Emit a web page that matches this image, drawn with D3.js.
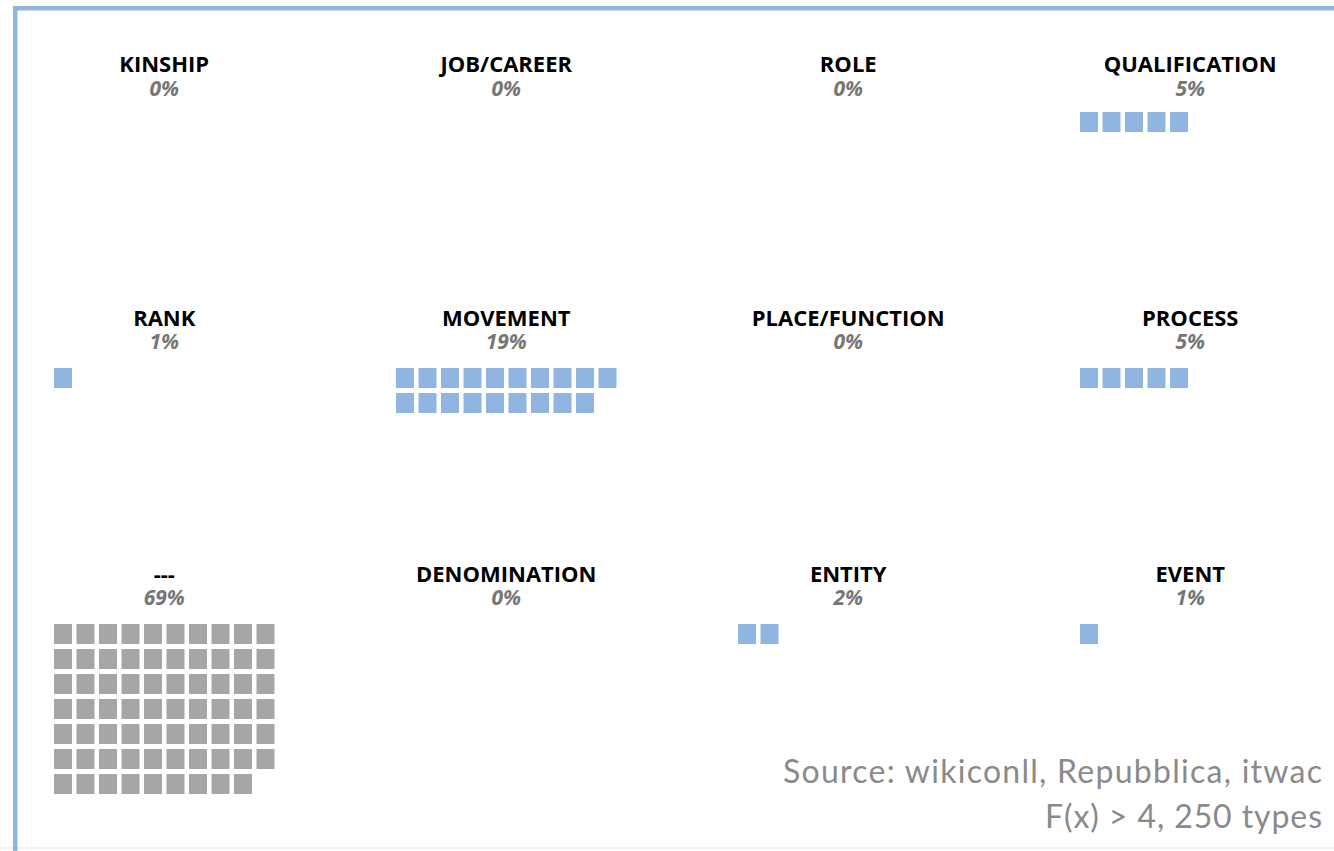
<!DOCTYPE html>
<html>
<head>
<meta charset="utf-8">
<script src="https://cdn.jsdelivr.net/npm/d3@7"></script>
<style>
  body { margin: 0; background: #fff; }
  .title { font-family: "Open Sans", sans-serif; font-weight: 700; font-size: 22px; fill: #000; }
  .pct { font-family: "Open Sans", sans-serif; font-weight: 700; font-style: italic; font-size: 21px; fill: #767676; }
  .source { font-family: Lato, sans-serif; font-size: 32px; fill: #8a8a8a; }
</style>
</head>
<body>
<div id="main"></div>
<script>
// data
const categories = ["KINSHIP", "JOB/CAREER", "ROLE", "QUALIFICATION",
  "RANK", "MOVEMENT", "PLACE/FUNCTION", "PROCESS",
  "---", "DENOMINATION", "ENTITY", "EVENT"];
const percents = [0, 0, 0, 5, 1, 19, 0, 5, 69, 0, 2, 1];
const highlight = ["---"]; // drawn grey, the rest blue
const sourceLines = ["Source: wikiconll, Repubblica, itwac", "F(x) > 4, 250 types"];

function main() {
  const svgWidth = 1334;
  const svgHeight = 851;
  const nCols = 4;
  const perRow = 10;
  const cellW = 18, cellH = 20, pitchX = 22.5, pitchY = 25;
  const colorBlue = "#8fb5e0";
  const colorGrey = "#a6a6a6";
  const sourceWidths = [539, 277];

  const svg = d3.select("#main")
    .append("svg")
    .attr("width", svgWidth)
    .attr("height", svgHeight);

  // frame
  svg.append("rect").attr("x", 0).attr("y", 847).attr("width", svgWidth).attr("height", 2).attr("fill", "#eef4fb");
  svg.append("rect").attr("x", 13).attr("y", 6).attr("width", svgWidth - 13).attr("height", 4.5).attr("fill", colorBlue);
  svg.append("rect").attr("x", 13).attr("y", 6).attr("width", 4.5).attr("height", svgHeight - 6).attr("fill", colorBlue);

  // scales
  const scaleCol = d3.scaleLinear().domain([0, nCols - 1]).range([54, 54 + 342 * 3]);
  const scaleRow = d3.scaleLinear().domain([0, 2]).range([112, 624]);
  const scaleCellX = d3.scaleLinear().domain([0, 1]).range([0, pitchX]);
  const scaleCellY = d3.scaleLinear().domain([0, 1]).range([0, pitchY]);

  const data = categories.map((c, i) => ({
    name: c,
    value: percents[i],
    col: i % nCols,
    row: Math.floor(i / nCols)
  }));

  const panel = svg.append("g")
    .selectAll("g")
    .data(data)
    .enter()
    .append("g")
    .attr("transform", d => "translate(" + scaleCol(d.col) + "," + scaleRow(d.row) + ")");

  const centerX = (perRow - 1) * pitchX / 2 + cellW / 2;

  panel.append("text")
    .attr("class", "title")
    .attr("text-anchor", "middle")
    .attr("x", centerX)
    .attr("y", d => d.row == 0 ? -40 : -42)
    .text(d => d.name);

  panel.append("text")
    .attr("class", "pct")
    .attr("text-anchor", "middle")
    .attr("x", centerX)
    .attr("y", d => d.row == 0 ? -16 : -19)
    .text(d => d.value + "%");

  panel.selectAll("rect")
    .data(d => d3.range(d.value).map(k => ({ k: k, grey: highlight.includes(d.name) })))
    .enter()
    .append("rect")
    .attr("x", d => scaleCellX(d.k % perRow))
    .attr("y", d => scaleCellY(Math.floor(d.k / perRow)))
    .attr("width", cellW)
    .attr("height", cellH)
    .attr("fill", d => d.grey ? colorGrey : colorBlue);

  // source note
  svg.append("g")
    .selectAll("text")
    .data(sourceLines)
    .enter()
    .append("text")
    .attr("class", "source")
    .attr("text-anchor", "end")
    .attr("x", 1322)
    .attr("y", (d, i) => 783 + i * 45)
    .attr("textLength", (d, i) => sourceWidths[i])
    .attr("lengthAdjust", "spacing")
    .text(d => d);
}
main();
</script>
</body>
</html>
